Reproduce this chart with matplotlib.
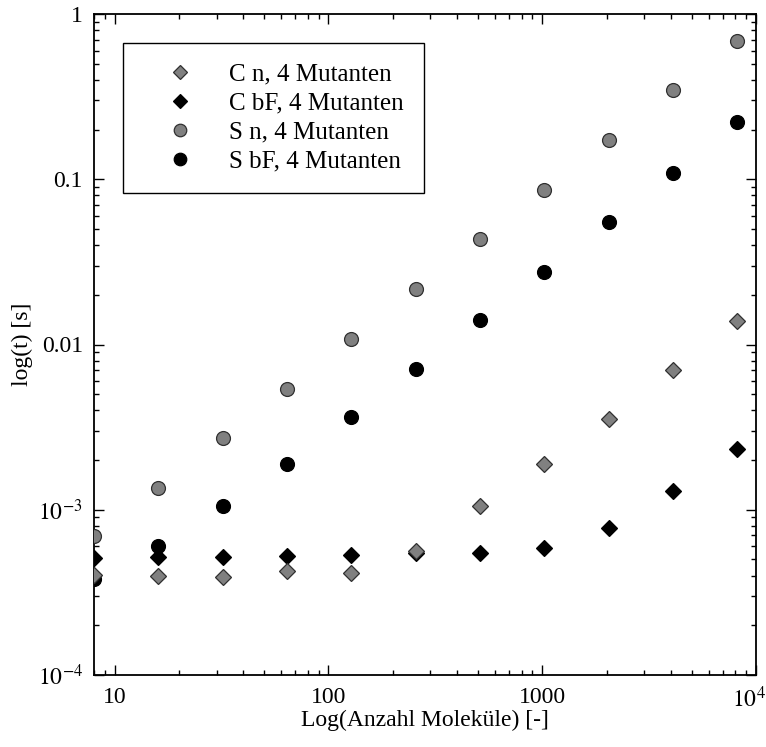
import matplotlib
matplotlib.use("Agg")
import matplotlib.pyplot as plt
from matplotlib.ticker import LogLocator, FixedLocator, FixedFormatter, NullFormatter
from matplotlib.transforms import ScaledTranslation

plt.rcParams["font.family"] = ["Liberation Serif", "DejaVu Serif"]
plt.rcParams["mathtext.fontset"] = "stix"

# Number of molecules
molecules = [8, 16, 32, 64, 128, 256, 512, 1024, 2048, 4096, 8192]

# Runtimes in seconds
c_n = [4.04e-4, 3.98e-4, 3.94e-4, 4.23e-4, 4.13e-4, 5.64e-4, 1.06e-3,
       1.89e-3, 3.56e-3, 6.98e-3, 1.384e-2]
c_bf = [5.1e-4, 5.2e-4, 5.2e-4, 5.28e-4, 5.33e-4, 5.51e-4, 5.51e-4,
        5.86e-4, 7.74e-4, 1.30e-3, 2.34e-3]
s_n = [6.9e-4, 1.35e-3, 2.73e-3, 5.39e-3, 1.076e-2, 2.16e-2, 4.37e-2,
       8.62e-2, 0.172, 0.347, 0.690]
s_bf = [3.8e-4, 6.0e-4, 1.05e-3, 1.90e-3, 3.66e-3, 7.12e-3, 1.40e-2,
        2.76e-2, 5.52e-2, 0.1096, 0.223]

labels = ["C n, 4 Mutanten", "C bF, 4 Mutanten", "S n, 4 Mutanten", "S bF, 4 Mutanten"]

x_ticks = [10, 100, 1000, 10000]
x_ticklabels = ["10", "100", "1000", r"$10^4$"]
y_ticks = [1e-4, 1e-3, 1e-2, 1e-1, 1]
y_ticklabels = [r"$10^{-4}$", r"$10^{-3}$", "0.01", "0.1", "1"]

fig = plt.figure(figsize=(7.66, 7.47), dpi=100)
ax = fig.add_axes([94 / 766, 1 - 675 / 747, (756 - 94) / 766, (675 - 14) / 747])

gray = "#808080"
edge = "#303030"
ax.plot(molecules, c_n, linestyle="none", marker="D", markersize=8.2,
        markerfacecolor=gray, markeredgecolor=edge, markeredgewidth=0.9, label=labels[0], zorder=3)
ax.plot(molecules, c_bf, linestyle="none", marker="D", markersize=8.2,
        markerfacecolor="black", markeredgecolor="black", markeredgewidth=0.9, label=labels[1], zorder=2)
ax.plot(molecules, s_n, linestyle="none", marker="o", markersize=10,
        markerfacecolor=gray, markeredgecolor=edge, markeredgewidth=0.9, label=labels[2], zorder=3)
ax.plot(molecules, s_bf, linestyle="none", marker="o", markersize=10,
        markerfacecolor="black", markeredgecolor="black", markeredgewidth=0.9, label=labels[3], zorder=2)

ax.set_xscale("log")
ax.set_yscale("log")
ax.set_xlim(8, 10000)
ax.set_ylim(1e-4, 1)

ax.xaxis.set_major_locator(FixedLocator(x_ticks))
ax.xaxis.set_major_formatter(FixedFormatter(x_ticklabels))
ax.yaxis.set_major_locator(FixedLocator(y_ticks))
ax.yaxis.set_major_formatter(FixedFormatter(y_ticklabels))
ax.xaxis.set_minor_locator(LogLocator(base=10, subs=range(2, 10), numticks=20))
ax.yaxis.set_minor_locator(LogLocator(base=10, subs=range(2, 10), numticks=20))
ax.xaxis.set_minor_formatter(NullFormatter())
ax.yaxis.set_minor_formatter(NullFormatter())

ax.tick_params(which="both", direction="in", top=True, right=True, width=1.0, labelsize=17)
ax.tick_params(which="major", length=7.2)
ax.tick_params(which="minor", length=3.6)
ax.tick_params(axis="x", which="major", pad=8.3)
ax.tick_params(axis="y", which="major", pad=8)
for s in ax.spines.values():
    s.set_linewidth(1.3)

# keep the last x tick label inside the figure
fig.canvas.draw()
last = ax.xaxis.get_major_ticks()[-1].label1
last.set_transform(last.get_transform() + ScaledTranslation(-7 / 100, 0, fig.dpi_scale_trans))

ax.set_xlabel("Log(Anzahl Moleküle) [-]", fontsize=17)
ax.set_ylabel("log(t) [s]", fontsize=17)
ax.xaxis.set_label_coords(0.5, -0.053)
ax.yaxis.set_label_coords(-0.092, 0.5)

leg = ax.legend(loc="upper left", bbox_to_anchor=(0.0438, 0.956), borderaxespad=0,
                fontsize=18, frameon=True, fancybox=False, edgecolor="black",
                framealpha=1, handlelength=2.96, handletextpad=0.48, borderpad=0.8,
                labelspacing=0.26, markerscale=0.9)
leg.get_frame().set_linewidth(1.0)

fig.savefig("out.png", dpi=100)
